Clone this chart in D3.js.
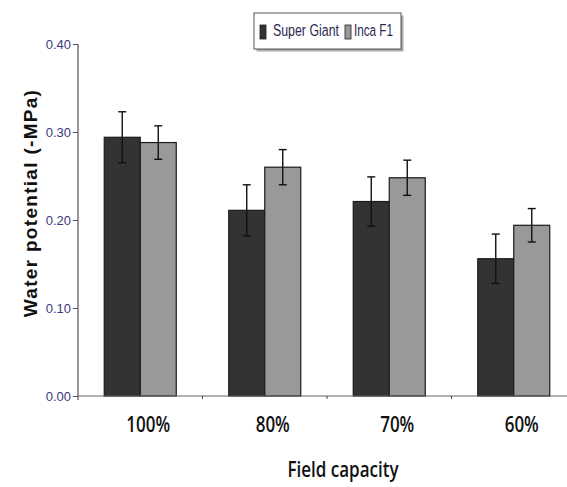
<!DOCTYPE html>
<html>
<head>
<meta charset="utf-8">
<script src="https://cdn.jsdelivr.net/npm/d3@7"></script>
<style>
  html, body { margin: 0; padding: 0; background: #fff; }
  svg { display: block; }
</style>
</head>
<body>
<svg id="chart" width="567" height="487"></svg>
<script>
// Field capacity treatments and the two cultivars
const categories = ["100%", "80%", "70%", "60%"];
const seriesNames = ["Super Giant", "Inca F1"];
const superGiant = [0.294, 0.211, 0.221, 0.156];
const incaF1 = [0.288, 0.260, 0.248, 0.194];
const superGiantErr = [0.029, 0.029, 0.028, 0.028];
const incaF1Err = [0.019, 0.020, 0.020, 0.019];
const yTicks = [0, 0.1, 0.2, 0.3, 0.4];

const series = [
  { name: seriesNames[0], values: superGiant, errs: superGiantErr, fill: "#333333" },
  { name: seriesNames[1], values: incaF1, errs: incaF1Err, fill: "#999999" }
];

const svg = d3.select("#chart");
const W = 567, H = 487;
const x0 = 78, yBase = 396, yTop = 44;

const x = d3.scaleBand().domain(categories).range([x0, 576]).paddingInner(0).paddingOuter(0);
const xs = d3.scaleBand().domain(seriesNames).range([0, 72]);
const y = d3.scaleLinear().domain([0, 0.4]).range([yBase, yTop]);

// squeeze a text element horizontally to a given width
function fitWidth(sel, width, tx, ty, sy = 1) {
  sel.each(function () {
    const w = this.getComputedTextLength();
    d3.select(this).attr("transform", `translate(${tx},${ty}) scale(${width / w},${sy})`);
  });
}

// Bars
const groups = svg.append("g").selectAll("g")
  .data(categories)
  .join("g")
  .attr("transform", c => `translate(${x(c) + x.bandwidth() / 2 - 36},0)`);

series.forEach(s => {
  groups.append("rect")
    .attr("x", () => xs(s.name))
    .attr("y", (c, i) => y(s.values[i]))
    .attr("width", xs.bandwidth())
    .attr("height", (c, i) => yBase - y(s.values[i]))
    .attr("fill", s.fill)
    .attr("stroke", "#1a1a1a")
    .attr("stroke-width", 1.2);
});

// Error bars (mean ± error)
series.forEach(s => {
  const eb = groups.append("g")
    .attr("stroke", "#111")
    .attr("stroke-width", 1.4);
  const cx = xs(s.name) + xs.bandwidth() / 2;
  const hi = (c, i) => y(s.values[i] + s.errs[i]);
  const lo = (c, i) => y(s.values[i] - s.errs[i]);
  eb.append("line").attr("x1", cx).attr("x2", cx).attr("y1", hi).attr("y2", lo);
  eb.append("line").attr("x1", cx - 4).attr("x2", cx + 4).attr("y1", hi).attr("y2", hi);
  eb.append("line").attr("x1", cx - 4).attr("x2", cx + 4).attr("y1", lo).attr("y2", lo);
});

// Y axis
const yAxis = d3.axisLeft(y).tickValues(yTicks).tickFormat(d3.format(".2f")).tickSize(5);
const gy = svg.append("g").attr("transform", `translate(${x0},0)`).call(yAxis);
gy.select(".domain").attr("stroke", "#555").attr("stroke-width", 1.2)
  .attr("d", `M0,${yTop}V${yBase + 4}`);
gy.selectAll(".tick line").attr("stroke", "#555");
gy.selectAll(".tick text")
  .attr("x", -7)
  .attr("fill", "#3a3a80")
  .style("font-family", "'Liberation Sans', Arial, sans-serif")
  .style("font-size", "13px");

// X axis
const xAxis = d3.axisBottom(x).tickSize(0).tickPadding(0);
const gx = svg.append("g").attr("transform", `translate(0,${yBase})`).call(xAxis);
gx.select(".domain").attr("stroke", "#666").attr("stroke-width", 1.2)
  .attr("d", `M${x0},0H${W}`);
gx.selectAll(".tick text")
  .attr("y", 0).attr("dy", 0)
  .attr("transform", "translate(8,36) scale(1,1.3)")
  .attr("fill", "#111")
  .style("font-family", "'Open Sans', sans-serif")
  .style("font-weight", "600")
  .style("font-size", "17px");
// small separators between categories
gx.append("g").selectAll("line")
  .data(categories.slice(1))
  .join("line")
  .attr("x1", c => x(c)).attr("x2", c => x(c))
  .attr("y1", 0).attr("y2", 3)
  .attr("stroke", "#444");

// Axis titles
svg.append("text")
  .attr("transform", `translate(37,203) rotate(-90)`)
  .attr("text-anchor", "middle")
  .attr("fill", "#111")
  .style("font-family", "'Liberation Sans', Arial, sans-serif")
  .style("font-weight", "bold")
  .style("font-size", "19px")
  .style("letter-spacing", "1.3px")
  .text("Water potential (-MPa)");

svg.append("text")
  .attr("transform", "translate(343,477) scale(1,1.3)")
  .attr("text-anchor", "middle")
  .attr("fill", "#111")
  .style("font-family", "'Open Sans', sans-serif")
  .style("font-weight", "600")
  .style("font-size", "17px")
  .text("Field capacity");

// Legend
const lg = svg.append("g").attr("transform", "translate(254,13)");
lg.append("rect").attr("x", 2.5).attr("y", 2.5).attr("width", 147).attr("height", 36).attr("fill", "#aaa");
lg.append("rect").attr("x", 0).attr("y", 0).attr("width", 147).attr("height", 36)
  .attr("fill", "#fff").attr("stroke", "#555").attr("stroke-width", 1);
const items = [
  { name: seriesNames[0], fill: series[0].fill, sx: 6, tx: 19, len: 66 },
  { name: seriesNames[1], fill: series[1].fill, sx: 91, tx: 100, len: 39 }
];
items.forEach(it => {
  lg.append("rect").attr("x", it.sx).attr("y", 12).attr("width", 6).attr("height", 14)
    .attr("fill", it.fill).attr("stroke", "#222").attr("stroke-width", 0.8);
  lg.append("text")
    .attr("fill", "#2a2a55")
    .style("font-family", "'Liberation Sans', Arial, sans-serif")
    .style("font-size", "17px")
    .text(it.name)
    .call(fitWidth, it.len, it.tx, 23);
});
</script>
</body>
</html>
